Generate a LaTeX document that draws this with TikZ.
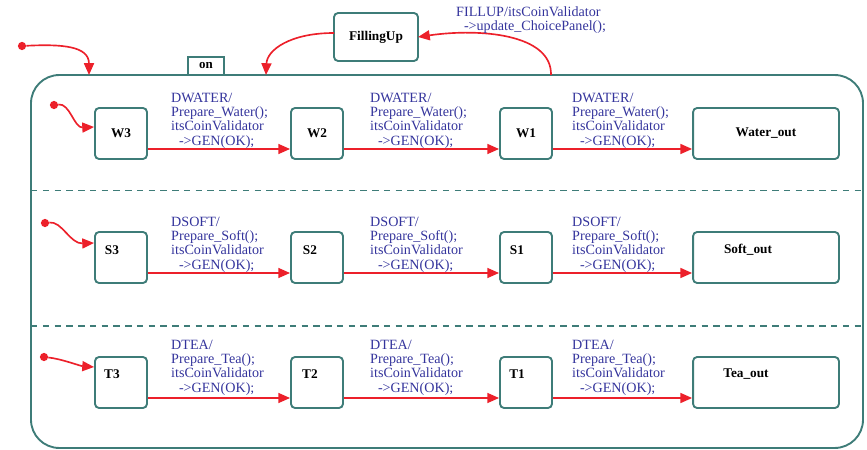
\documentclass[tikz,border=0pt]{standalone}
\usepackage{fontspec}
\setmainfont{Liberation Serif}
\usetikzlibrary{arrows.meta,calc}

\definecolor{stateline}{RGB}{62,124,120}
\definecolor{transred}{RGB}{236,32,42}
\definecolor{actionblue}{RGB}{52,52,156}

\tikzset{
  stbox/.style={draw=stateline, line width=1.6pt, rounded corners=3.5pt,
    minimum width=44.2pt, minimum height=43.4pt, inner sep=0pt,
    font=\fontsize{11.3}{12}\selectfont\bfseries},
  outbox/.style={stbox, minimum width=124pt},
  stname/.style={font=\fontsize{11.3}{12}\selectfont\bfseries},
  tr/.style={draw=transred, line width=1.4pt,
    -{Triangle[length=10pt,width=8.5pt]}},
  initdot/.style={circle, fill=transred, inner sep=0pt, minimum size=7pt},
  act/.style={text=actionblue, font=\fontsize{12}{12.2}\selectfont,
    align=left, inner sep=0pt, anchor=south west},
  divider/.style={draw=stateline, line width=1.4pt, dash pattern=on 5.5pt off 4.5pt},
}

\begin{document}
\begin{tikzpicture}[x=0.85pt,y=-0.85pt]
\useasboundingbox (0,0) rectangle (867,450);

% composite state "on" with its name tab
\node[draw=stateline, line width=1.6pt, rounded corners=24pt, inner sep=0pt,
  minimum width=707.2pt, minimum height=317pt] (on) at (447,261.5) {};
\node[draw=stateline, line width=1.4pt, inner sep=0pt, minimum width=30.6pt,
  minimum height=15.3pt, font=\fontsize{11}{12}\selectfont\bfseries] (ontab) at (206,66) {on};

% concurrent regions
\coordinate (d1a) at (31,190.5); \coordinate (d1b) at (863,190.5);
\coordinate (d2a) at (31,326);   \coordinate (d2b) at (863,326);
\draw[divider] (d1a) -- (d1b);
\draw[divider] (d2a) -- (d2b);

% FillingUp state
\node[stbox, minimum width=71.4pt, minimum height=40.8pt] (FU) at (376,37) {FillingUp};

% points on the border of "on"
\coordinate (onIn)  at (89,75);
\coordinate (onRet) at (266,75);
\coordinate (onOut) at (551,75);

% top-level initial transition
\node[initdot] (i0) at (22,46) {};
\draw[tr] (i0) .. controls (62,44) and (89,46) .. (onIn);

% FillingUp transitions
\coordinate (FUw) at (334,33);
\coordinate (FUe) at (418,37);
\draw[tr] (FUw) .. controls (290,33) and (267,50) .. (onRet);
\draw[tr] (onOut) .. controls (552,34) and (480,28) .. (FUe);
\node[text=actionblue, font=\fontsize{12}{12.3}\selectfont, align=left,
  inner sep=0pt, anchor=north west] (fl) at (456,6.5)
  {FILLUP/itsCoinValidator\\\hspace*{0.55em}->update\_ChoicePanel();};

% ---- water row ----
\node[stbox] (W3) at (121,133.5) {W3};
\node[stbox] (W2) at (317,133.5) {W2};
\node[stbox] (W1) at (526,133.5) {W1};
\node[outbox] (Wout) at (766,133.5) {Water\_out};

\node[initdot] (iw) at (54,105) {};
\draw[tr] (iw) .. controls (70,103) and (74,128) .. ($(W3.west)+(0,-6.5)$);

\draw[tr] ($(W3.east)+(0,15.5)$) -- ($(W2.west)+(0,15.5)$);
\draw[tr] ($(W2.east)+(0,15.5)$) -- ($(W1.west)+(0,15.5)$);
\draw[tr] ($(W1.east)+(0,15.5)$) -- ($(Wout.west)+(0,15.5)$);
\node[act] (aw1) at (171,148.5) {DWATER/\\Prepare\_Water();\\itsCoinValidator\\\hspace*{0.55em}->GEN(OK);};
\node[act] (aw2) at (370,148.5) {DWATER/\\Prepare\_Water();\\itsCoinValidator\\\hspace*{0.55em}->GEN(OK);};
\node[act] (aw3) at (572,148.5) {DWATER/\\Prepare\_Water();\\itsCoinValidator\\\hspace*{0.55em}->GEN(OK);};

% ---- soft drink row ----
\node[stbox] (S3) at (121,257.5) {};
\node[stbox] (S2) at (317,257.5) {};
\node[stbox] (S1) at (526,257.5) {};
\node[outbox] (Sout) at (766,257.5) {};
\node[stname] at ($(S3)+(-9,-7.5)$) {S3};
\node[stname] at ($(S2)+(-7,-7.5)$) {S2};
\node[stname] at ($(S1)+(-9,-7.5)$) {S1};
\node[stname] at ($(Sout)+(-18,-7.5)$) {Soft\_out};

\node[initdot] (is) at (45,223) {};
\draw[tr] (is) .. controls (62,221) and (70,244) .. ($(S3.west)+(0,-14.5)$);

\draw[tr] ($(S3.east)+(0,15.5)$) -- ($(S2.west)+(0,15.5)$);
\draw[tr] ($(S2.east)+(0,15.5)$) -- ($(S1.west)+(0,15.5)$);
\draw[tr] ($(S1.east)+(0,15.5)$) -- ($(Sout.west)+(0,15.5)$);
\node[act] (as1) at (171,272.5) {DSOFT/\\Prepare\_Soft();\\itsCoinValidator\\\hspace*{0.55em}->GEN(OK);};
\node[act] (as2) at (370,272.5) {DSOFT/\\Prepare\_Soft();\\itsCoinValidator\\\hspace*{0.55em}->GEN(OK);};
\node[act] (as3) at (572,272.5) {DSOFT/\\Prepare\_Soft();\\itsCoinValidator\\\hspace*{0.55em}->GEN(OK);};

% ---- tea row ----
\node[stbox] (T3) at (121,382.5) {};
\node[stbox] (T2) at (317,382.5) {};
\node[stbox] (T1) at (526,382.5) {};
\node[outbox] (Tout) at (766,382.5) {};
\node[stname] at ($(T3)+(-9,-8.5)$) {T3};
\node[stname] at ($(T2)+(-7,-8.5)$) {T2};
\node[stname] at ($(T1)+(-9,-8.5)$) {T1};
\node[stname] at ($(Tout)+(-20,-8.5)$) {Tea\_out};

\node[initdot] (it) at (44,357) {};
\draw[tr] (it) .. controls (62,359) and (80,366) .. ($(T3.west)+(0,-15.5)$);

\draw[tr] ($(T3.east)+(0,15.5)$) -- ($(T2.west)+(0,15.5)$);
\draw[tr] ($(T2.east)+(0,15.5)$) -- ($(T1.west)+(0,15.5)$);
\draw[tr] ($(T1.east)+(0,15.5)$) -- ($(Tout.west)+(0,15.5)$);
\node[act] (at1) at (171,395.5) {DTEA/\\Prepare\_Tea();\\itsCoinValidator\\\hspace*{0.55em}->GEN(OK);};
\node[act] (at2) at (370,395.5) {DTEA/\\Prepare\_Tea();\\itsCoinValidator\\\hspace*{0.55em}->GEN(OK);};
\node[act] (at3) at (572,395.5) {DTEA/\\Prepare\_Tea();\\itsCoinValidator\\\hspace*{0.55em}->GEN(OK);};
\end{tikzpicture}
\end{document}
